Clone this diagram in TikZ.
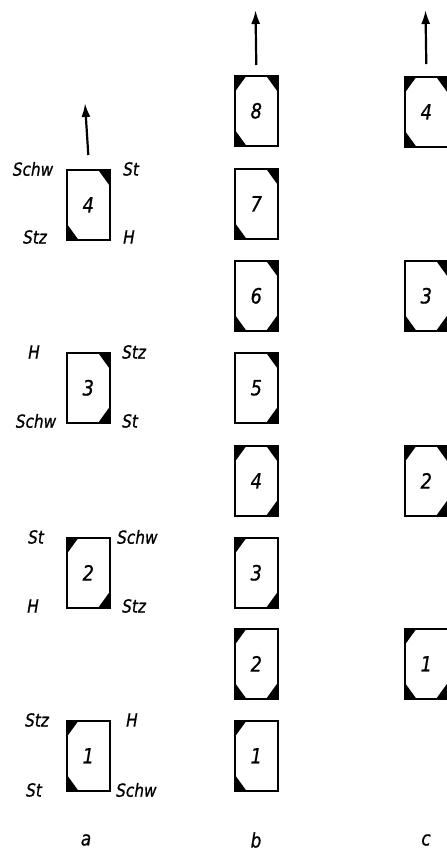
\documentclass[tikz,border=0pt]{standalone}
\usepackage{fontspec}
\setmainfont{DejaVu Sans}[FakeStretch=0.85,ItalicFeatures={FakeBold=0.8}]
\usetikzlibrary{arrows.meta}
\newcommand\cTL[1]{\fill (#1.north west) -- ++(13pt,0pt) -- ++(-13pt,-18pt) -- cycle;}
\newcommand\cTR[1]{\fill (#1.north east) -- ++(-13pt,0pt) -- ++(13pt,-18pt) -- cycle;}
\newcommand\cBL[1]{\fill (#1.south west) -- ++(13pt,0pt) -- ++(-13pt,18pt) -- cycle;}
\newcommand\cBR[1]{\fill (#1.south east) -- ++(-13pt,0pt) -- ++(13pt,18pt) -- cycle;}
\begin{document}
\begin{tikzpicture}[x=1pt,y=-1pt,
 box/.style={draw,line width=1.6pt,minimum width=43pt,minimum height=70pt,inner sep=0pt,anchor=north west,font=\itshape\fontsize{21}{21}\selectfont},
 lab/.style={inner sep=0pt,font=\itshape\fontsize{18}{18}\selectfont},
 labr/.style={lab,anchor=west},
 arr/.style={line width=2.2pt,-{Latex[length=14pt,width=9pt]}},
 captext/.style={inner sep=0pt,font=\itshape\fontsize{20}{20}\selectfont}]
\useasboundingbox (0,0) rectangle (447,852);
% column a
\node[box] (a4) at (66,169) {4};
\node[box] (a3) at (66,352) {3};
\node[box] (a2) at (66,537) {2};
\node[box] (a1) at (66,720) {1};
\cTR{a4}\cBL{a4}
\cTR{a3}\cBR{a3}
\cTL{a2}\cBR{a2}
\cTL{a1}\cBL{a1}
\coordinate (ta) at (85,103);
\draw[arr] ([yshift=14pt]a4.north) -- (ta);
\node[lab] (a4tl) at (33,169) {Schw};
\node[labr] (a4tr) at (123,169) {St};
\node[lab] (a4bl) at (35,237) {Stz};
\node[labr] (a4br) at (123,237) {H};
\node[lab] (a3tl) at (34,352) {H};
\node[labr] (a3tr) at (122,352) {Stz};
\node[lab] (a3bl) at (36,421) {Schw};
\node[labr] (a3br) at (122,421) {St};
\node[lab] (a2tl) at (36,537) {St};
\node[labr] (a2tr) at (117,537) {Schw};
\node[lab] (a2bl) at (33,606) {H};
\node[labr] (a2br) at (122,606) {Stz};
\node[lab] (a1tl) at (37,720) {Stz};
\node[labr] (a1tr) at (126,720) {H};
\node[lab] (a1bl) at (34,790) {St};
\node[labr] (a1br) at (116,790) {Schw};
% column b
\node[box] (b8) at (234,75) {8};
\node[box] (b7) at (234,168) {7};
\node[box] (b6) at (234,260) {6};
\node[box] (b5) at (234,352) {5};
\node[box] (b4) at (234,445) {4};
\node[box] (b3) at (234,537) {3};
\node[box] (b2) at (234,628) {2};
\node[box] (b1) at (234,720) {1};
\cTL{b8}\cTR{b8}\cBL{b8}
\cTR{b7}\cBL{b7}
\cTR{b6}\cBL{b6}\cBR{b6}
\cTR{b5}\cBR{b5}
\cTL{b4}\cTR{b4}\cBR{b4}
\cTL{b3}\cBR{b3}
\cTL{b2}\cBL{b2}\cBR{b2}
\cTL{b1}\cBL{b1}
\coordinate (tb) at (255.5,10);
\draw[arr] ([yshift=10pt]b8.north) -- (tb);
% column c
\node[box] (c4) at (404,76) {4};
\node[box] (c3) at (404,260) {3};
\node[box] (c2) at (404,445) {2};
\node[box] (c1) at (404,628) {1};
\cTL{c4}\cTR{c4}\cBL{c4}
\cTR{c3}\cBL{c3}\cBR{c3}
\cTL{c2}\cTR{c2}\cBR{c2}
\cTL{c1}\cBL{c1}\cBR{c1}
\coordinate (tc) at (425.5,10);
\draw[arr] ([yshift=12pt]c4.north) -- (tc);
% captions
\node[captext] (la) at (86,840) {a};
\node[captext] (lb) at (256,840) {b};
\node[captext] (lc) at (426,840) {c};
\end{tikzpicture}
\end{document}
